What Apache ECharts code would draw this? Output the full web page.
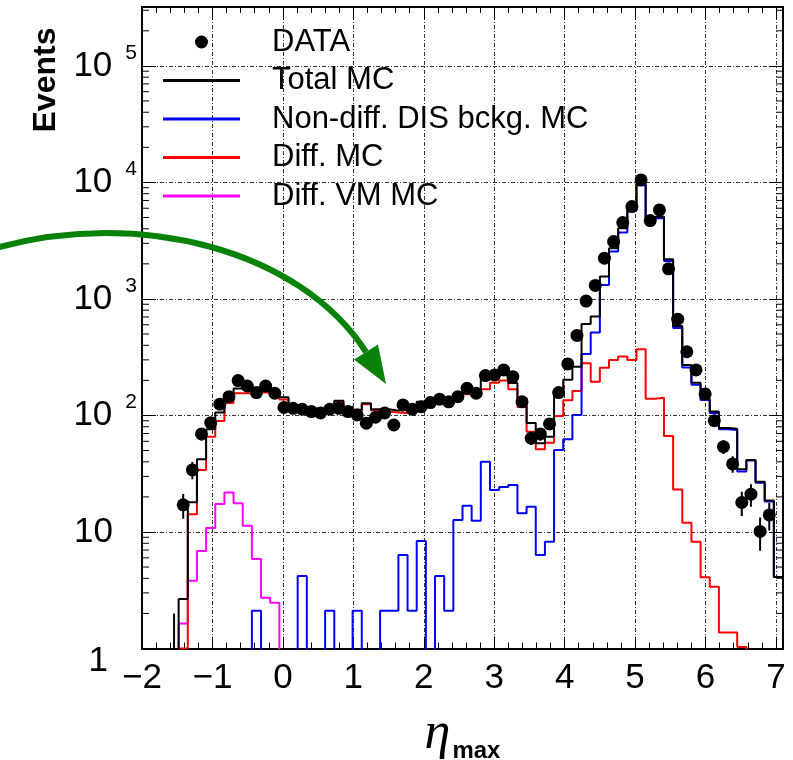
<!DOCTYPE html>
<html>
<head>
<meta charset="utf-8">
<script src="https://cdn.jsdelivr.net/npm/echarts@6/dist/echarts.min.js"></script>
<style>
    html, body { margin: 0; padding: 0; background: #fff; }
    #main { width: 793px; height: 760px; }
</style>
</head>
<body>
<div id="main"></div>
<script>
    // eta_max distribution: 70 bins of width 0.13 starting at -2
    var binStart = -2
    var binWidth = 0.13

    var dataCounts = [
        0, 0, 0, 1, 17.1, 34.1, 69.4, 86.7, 125, 145,
        199, 179, 157, 179, 155, 117, 115, 113, 108, 105,
        113, 115, 108, 101, 85.7, 96.5, 105, 82.8, 123, 113,
        119, 129, 138, 131, 145, 171, 155, 220, 222, 246,
        215, 131, 63.7, 69.4, 84.5, 157, 277, 486, 958, 1306,
        2236, 3104, 4518, 6198, 10500, 4700, 5808, 1811, 670, 352,
        246, 153, 90.2, 54, 38.4, 17.9, 21.1, 10.1, 14.0, 0
    ]
    var dataErrors = [
        0, 0, 0, 1, 4.1, 5.8, 8.3, 9.3, 11.2, 12,
        14.1, 13.4, 12.5, 13.4, 12.4, 10.8, 10.7, 10.6, 10.4, 10.2,
        10.6, 10.7, 10.4, 10, 9.3, 9.8, 10.2, 9.1, 11.1, 10.6,
        10.9, 11.4, 11.7, 11.4, 12, 13.1, 12.4, 14.8, 14.9, 15.7,
        14.7, 11.4, 8, 8.3, 9.2, 12.5, 16.6, 22, 31, 36,
        47, 56, 67, 79, 102, 69, 76, 43, 26, 19,
        15.7, 12.4, 9.5, 7.3, 6.2, 4.2, 4.6, 3.2, 3.7, 0
    ]
    var totalMC = [
        0, 0, 0, 0, 2.66, 18.0, 42.1, 76, 106, 150,
        170, 168, 165, 162, 152, 143, 120, 118, 115, 112,
        118, 134, 118, 112, 127, 113, 113, 110, 112, 116,
        131, 125, 133, 138, 150, 170, 162, 205, 214, 223,
        190, 140, 86, 57.7, 65.8, 160, 202, 262, 610, 705,
        1555, 2723, 4045, 6010, 9840, 5050, 5090, 2192, 587, 271,
        191, 140, 108, 78, 77, 34.5, 41.5, 27, 18.6, 4.1
    ]
    var nonDiffMC = [
        0, 0, 0, 0, 0, 0, 0, 0, 0, 0,
        0, 0, 2.11, 0, 0, 0, 0, 4.19, 0, 0,
        2.11, 0, 0, 2.11, 0, 0, 2.11, 2.11, 6.35, 2.11,
        8.37, 0, 4.19, 2.11, 12.7, 16.8, 12.5, 40.1, 22.9, 24.3,
        25.3, 14.5, 16.5, 6.35, 8.26, 50.6, 62.5, 101, 336, 514,
        1319, 2548, 3720, 5700, 9450, 4900, 4940, 2120, 562, 258,
        183, 136, 105, 76, 75, 33, 41, 26.5, 18.3, 4.1
    ]
    var diffMC = [
        0, 0, 0, 0, 1.0, 14.2, 34.1, 65.8, 89.7, 128,
        155, 155, 157, 158, 148, 137, 118, 113, 113, 110,
        115, 131, 116, 109, 125, 111, 108, 106, 105, 112,
        121, 123, 128, 135, 137, 152, 148, 168, 191, 199,
        168, 118, 72.6, 51.3, 58.4, 99, 135, 162, 280, 195,
        257, 299, 320, 299, 370, 139, 142, 66.7, 23.2, 12.0,
        8.26, 4.09, 3.39, 1.37, 1.37, 1.03, 0, 0, 0, 0
    ]
    var diffVMMC = [
        0, 0, 0, 0, 1.64, 3.82, 6.87, 10.8, 17.4, 21.8,
        17.6, 11.3, 5.87, 2.73, 2.47, 0, 0, 0, 0, 0,
        0, 0, 0, 0, 0, 0, 0, 0, 0, 0,
        0, 0, 0, 0, 0, 0, 0, 0, 0, 0,
        0, 0, 0, 0, 0, 0, 0, 0, 0, 0,
        0, 0, 0, 0, 0, 0, 0, 0, 0, 0,
        0, 0, 0, 0, 0, 0, 0, 0, 0, 0
    ]

    var font = 'Liberation Sans, Arial, sans-serif'
    var xMin = -2, xMax = 7.1
    var yMin = 1, yMax = 320000

    // histogram outline: left edge of each bin, then the right edge of the last one
    function stepData(vals) {
        var pts = []
        for (var i = 0; i < vals.length; i++) {
            pts.push([binStart + i * binWidth, vals[i] > 0 ? vals[i] : 0.3])
        }
        var last = vals[vals.length - 1]
        pts.push([binStart + vals.length * binWidth, last > 0 ? last : 0.3])
        return pts
    }

    var points = [], errBars = []
    for (var i = 0; i < dataCounts.length; i++) {
        var c = binStart + (i + 0.5) * binWidth
        if (dataCounts[i] > 1) points.push([c, dataCounts[i]])
        if (dataCounts[i] > 0) errBars.push([c, dataCounts[i], dataErrors[i]])
    }

    // log minor ticks 2..9 x 10^k (ECharts spaces log minor ticks linearly, so draw them here)
    var yMinorTicks = []
    for (var k = 0; k <= 5; k++) {
        for (var m = 2; m <= 9; m++) {
            if (m * Math.pow(10, k) < yMax) yMinorTicks.push([xMin, m * Math.pow(10, k)])
        }
    }

    function histLine(name, vals, color, z) {
        return {
            name: name,
            type: 'line',
            step: 'end',
            symbol: 'none',
            showSymbol: false,
            clip: true,
            z: z,
            itemStyle: { color: color },
            lineStyle: { color: color, width: 2 },
            data: stepData(vals)
        }
    }

    var lineIcon = 'path://M0,0H77V3H0Z'
    var gridLine = { color: '#333', width: 1, type: [4, 2, 1, 2] }
    var green = '#0a820a'

    var chart = echarts.init(document.getElementById('main'))
    var option = {
        animation: false,
        backgroundColor: '#fff',
        grid: { left: 142, right: 10, top: 7, bottom: 111.5, outerBoundsMode: 'none' },
        legend: {
            orient: 'vertical',
            left: 163,
            top: 26.5,
            padding: 0,
            itemGap: 7.5,
            itemWidth: 77,
            itemHeight: 13,
            selectedMode: false,
            data: [
                { name: 'DATA', icon: 'circle' },
                { name: 'Total MC', icon: lineIcon },
                { name: 'Non-diff. DIS bckg. MC', icon: lineIcon },
                { name: 'Diff. MC', icon: lineIcon },
                { name: 'Diff. VM MC', icon: lineIcon }
            ],
            formatter: function (name) { return '{t|' + name + '}' },
            textStyle: {
                color: '#000', fontFamily: font, fontSize: 31,
                rich: { t: { color: '#000', fontFamily: font, fontSize: 31, lineHeight: 31, padding: [0, 0, 0, 27] } }
            }
        },
        graphic: [
            {
                type: 'text', x: 46, y: 80, rotation: Math.PI / 2, z: 10,
                style: {
                    text: 'Events', fill: '#000', font: 'bold 32px ' + font,
                    textAlign: 'center', textVerticalAlign: 'middle'
                }
            },
            {
                type: 'bezierCurve', z: 10,
                shape: { x1: -4, y1: 248, cpx1: 140, cpy1: 208, cpx2: 300, cpy2: 250, x2: 366, y2: 352 },
                style: { stroke: green, lineWidth: 6, fill: null }
            },
            {
                type: 'polygon', z: 10,
                shape: { points: [[386, 384], [354, 359.4], [378, 344.6]] },
                style: { fill: green }
            }
        ],
        xAxis: [
            {
                type: 'value', min: xMin, max: xMax, interval: 1, position: 'bottom',
                name: '{e|η}{m|max}', nameLocation: 'middle', nameGap: 57, nameMoveOverlap: false,
                nameTextStyle: {
                    rich: {
                        e: { fontFamily: 'Liberation Serif', fontStyle: 'italic', fontSize: 52, color: '#000' },
                        m: { fontFamily: font, fontWeight: 'bold', fontSize: 24, color: '#000', padding: [34, 0, 0, 2] }
                    }
                },
                axisLine: { show: true, onZero: false, lineStyle: { color: '#000', width: 2 } },
                axisTick: { show: true, inside: true, length: 12, lineStyle: { color: '#000', width: 1 } },
                minorTick: { show: true, splitNumber: 5, length: 6, lineStyle: { color: '#000', width: 1 } },
                splitLine: { show: true, lineStyle: gridLine },
                axisLabel: {
                    margin: 12, fontSize: 35, color: '#000', fontFamily: font, showMaxLabel: false,
                    formatter: function (v) {
                        if (Math.abs(v - Math.round(v)) > 1e-6) return ''
                        return v < 0 ? '\u2212' + (-v) : String(v)
                    }
                }
            },
            {
                type: 'value', min: xMin, max: xMax, interval: 1, position: 'top',
                axisLine: { show: true, onZero: false, lineStyle: { color: '#000', width: 2 } },
                axisTick: { show: true, inside: true, length: 12, lineStyle: { color: '#000', width: 1 } },
                minorTick: { show: true, splitNumber: 5, length: 6, lineStyle: { color: '#000', width: 1 } },
                splitLine: { show: false },
                axisLabel: { show: false }
            }
        ],
        yAxis: [
            {
                type: 'log', logBase: 10, min: yMin, max: yMax, position: 'left',
                axisLine: { show: true, onZero: false, lineStyle: { color: '#000', width: 2 } },
                axisTick: { show: true, inside: true, length: 14, lineStyle: { color: '#000', width: 1 } },
                splitLine: { show: true, lineStyle: gridLine },
                axisLabel: {
                    margin: 5, color: '#000', fontFamily: font,
                    formatter: function (v) {
                        var e = Math.log10(v), r = Math.round(e)
                        if (Math.abs(e - r) > 1e-6) return ''
                        if (r === 0) return '{one|1}'
                        if (r === 1) return '{b1|10}'
                        return '{b|10}{s|' + r + '}'
                    },
                    rich: {
                        b: { fontSize: 35, fontFamily: font, color: '#000' },
                        b1: { fontSize: 35, fontFamily: font, color: '#000', padding: [0, 24, 0, 0] },
                        one: { fontSize: 35, fontFamily: font, color: '#000', padding: [26, 29, 0, 0] },
                        s: { fontSize: 21, fontFamily: font, color: '#000', padding: [0, 0, 26, 13] }
                    }
                }
            },
            {
                type: 'log', logBase: 10, min: yMin, max: yMax, position: 'right',
                axisLine: { show: true, onZero: false, lineStyle: { color: '#000', width: 2 } },
                axisTick: { show: true, inside: true, length: 14, lineStyle: { color: '#000', width: 1 } },
                splitLine: { show: false },
                axisLabel: { show: false }
            }
        ],
        series: [
            histLine('Diff. VM MC', diffVMMC, '#ff00ff', 2),
            histLine('Diff. MC', diffMC, '#ff0000', 2),
            histLine('Non-diff. DIS bckg. MC', nonDiffMC, '#0000ff', 2),
            histLine('Total MC', totalMC, '#000000', 3),
            {
                name: 'DATA',
                type: 'scatter',
                symbol: 'circle',
                symbolSize: 13,
                z: 5,
                itemStyle: { color: '#000', opacity: 1 },
                data: points
            },
            {
                name: 'DATA errors',
                type: 'custom',
                silent: true,
                clip: true,
                z: 5,
                data: errBars,
                renderItem: function (params, api) {
                    var x = api.value(0), v = api.value(1), e = api.value(2)
                    var p1 = api.coord([x, Math.max(v - e, 0.01)])
                    var p2 = api.coord([x, v + e])
                    return {
                        type: 'line',
                        shape: { x1: p1[0], y1: p1[1], x2: p2[0], y2: p2[1] },
                        style: { stroke: '#000', lineWidth: 2 }
                    }
                }
            },
            {
                name: 'minor ticks',
                type: 'custom',
                silent: true,
                clip: false,
                z: 6,
                data: yMinorTicks,
                renderItem: function (params, api) {
                    var v = api.value(1)
                    var pl = api.coord([xMin, v])
                    var pr = api.coord([xMax, v])
                    return {
                        type: 'group',
                        children: [
                            { type: 'line', shape: { x1: pl[0], y1: pl[1], x2: pl[0] + 7, y2: pl[1] }, style: { stroke: '#000', lineWidth: 1 } },
                            { type: 'line', shape: { x1: pr[0] - 7, y1: pr[1], x2: pr[0], y2: pr[1] }, style: { stroke: '#000', lineWidth: 1 } }
                        ]
                    }
                }
            }
        ]
    }
    chart.setOption(option)
</script>
</body>
</html>
